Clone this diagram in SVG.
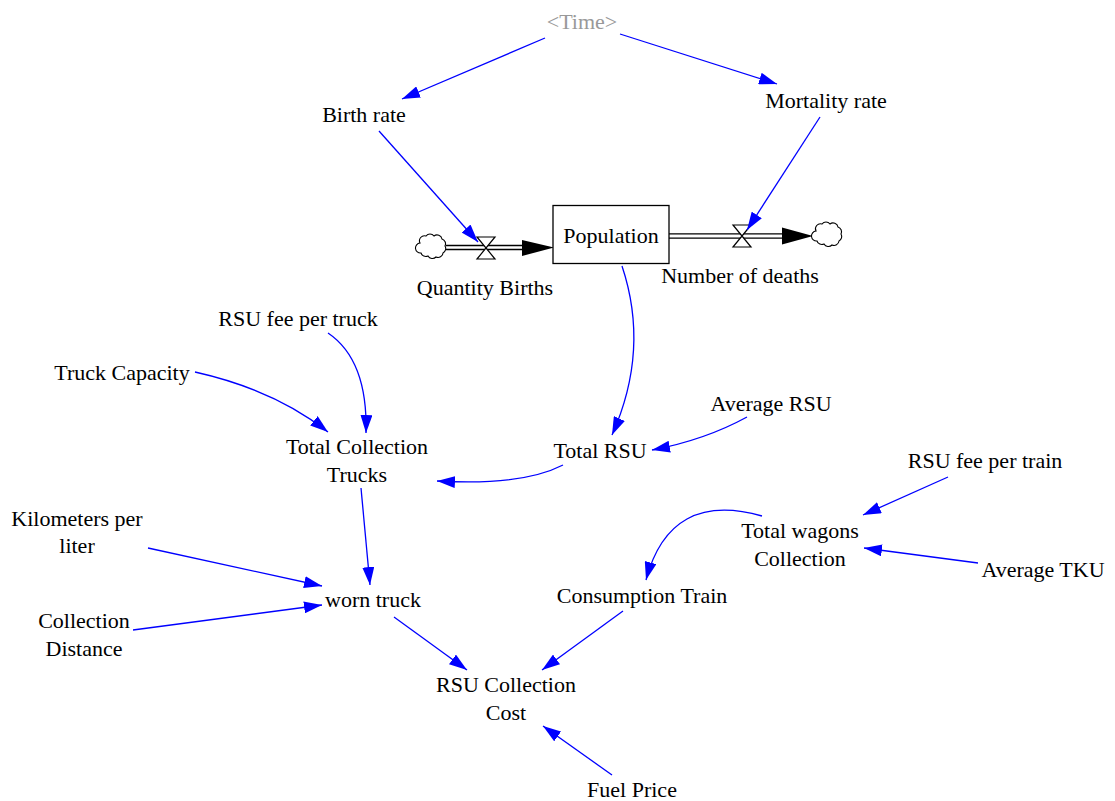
<svg xmlns="http://www.w3.org/2000/svg" width="1115" height="801" viewBox="0 0 1115 801">
<style>
.lbl text{font-size:22px;fill:#000;text-anchor:middle}
.lbl text.shadow{fill:#999}
.link{fill:none;stroke:#0000ff;stroke-width:1.3;marker-end:url(#ah)}
.pipe{stroke:#000;stroke-width:1.3;fill:none}
.valve{fill:#fff;stroke:#000;stroke-width:1.2}
.cloud{fill:#fff;stroke:#000;stroke-width:1.1}
.stock{fill:#fff;stroke:#000;stroke-width:1.3}
</style>
<defs>
<marker id="ah" viewBox="0 0 18 12" refX="18" refY="6" markerWidth="18" markerHeight="12" markerUnits="userSpaceOnUse" orient="auto">
<path d="M0,0 L18,6 L0,12 z" fill="#0000ff"/>
</marker>
<path id="cloudShape" d="M-12,-4 a5,5 0 0 1 6,-7 a5,5 0 0 1 8,0 a5,5 0 0 1 8,3 a5,5 0 0 1 3,7 a5,5 0 0 1 -2,7 a5,5 0 0 1 -7,4 a5,5 0 0 1 -8,-1 a5,5 0 0 1 -7,-3 a5,5 0 0 1 -1,-10 z"/>
<path id="valveShape" d="M-9,-11 L9,-11 L-9,11 L9,11 Z"/>
</defs>
<rect width="1115" height="801" fill="#fff"/>

<g id="flows">
<g id="flow-births">
<use href="#cloudShape" class="cloud" x="432" y="247"/>
<line class="pipe" x1="446" y1="245.5" x2="523" y2="245.5"/>
<line class="pipe" x1="446" y1="249.5" x2="523" y2="249.5"/>
<polygon points="522,240 554,247.5 522,256" fill="#000"/>
<use href="#valveShape" class="valve" x="486" y="248"/>
</g>
<g id="flow-deaths">
<line class="pipe" x1="669" y1="233.8" x2="783" y2="233.8"/>
<line class="pipe" x1="669" y1="238.2" x2="783" y2="238.2"/>
<polygon points="782,227.5 813,236 782,244.5" fill="#000"/>
<use href="#valveShape" class="valve" x="742" y="236"/>
<use href="#cloudShape" class="cloud" x="828" y="235"/>
</g>
</g>

<g id="connectors">
<path class="link" d="M545,38 L402,99"/>
<path class="link" d="M620,34 L777,84"/>
<path class="link" d="M379,131 L478,242"/>
<path class="link" d="M820,117 L747,230"/>
<path class="link" d="M622,266 Q650,350 612,435"/>
<path class="link" d="M747,417 Q705,440 652,450"/>
<path class="link" d="M563,465 Q522,486 437,481"/>
<path class="link" d="M195,372 Q275,390 328,432"/>
<path class="link" d="M328,333 Q368,360 366,433"/>
<path class="link" d="M361,488 L370,585"/>
<path class="link" d="M148,548 L322,586"/>
<path class="link" d="M133,630 L322,605"/>
<path class="link" d="M394,617 L467,670"/>
<path class="link" d="M623,611 L542,670"/>
<path class="link" d="M612,775 L543,726"/>
<path class="link" d="M762,516 Q670,490 646,580"/>
<path class="link" d="M948,477 L863,515"/>
<path class="link" d="M978,563 L864,548"/>
</g>

<g class="lbl" font-family="'Liberation Serif', 'Times New Roman', 'DejaVu Serif', serif">
<g id="time"><text class="shadow" x="582" y="29">&lt;Time&gt;</text></g>
<g id="birth-rate"><text x="364" y="122">Birth rate</text></g>
<g id="mortality-rate"><text x="826" y="108">Mortality rate</text></g>
<g id="population"><rect class="stock" x="553" y="205.5" width="116" height="58"/><text x="611" y="243">Population</text></g>
<g id="quantity-births"><text x="485" y="295">Quantity Births</text></g>
<g id="number-of-deaths"><text x="740" y="283">Number of deaths</text></g>
<g id="rsu-fee-per-truck"><text x="298" y="326">RSU fee per truck</text></g>
<g id="truck-capacity"><text x="122" y="380">Truck Capacity</text></g>
<g id="total-collection-trucks"><text x="357" y="454">Total Collection</text><text x="357" y="482">Trucks</text></g>
<g id="total-rsu"><text x="600" y="458">Total RSU</text></g>
<g id="average-rsu"><text x="771" y="411">Average RSU</text></g>
<g id="rsu-fee-per-train"><text x="985" y="468">RSU fee per train</text></g>
<g id="total-wagons-collection"><text x="800" y="538">Total wagons</text><text x="800" y="566">Collection</text></g>
<g id="average-tku"><text x="1043" y="577">Average TKU</text></g>
<g id="consumption-train"><text x="642" y="603">Consumption Train</text></g>
<g id="kilometers-per-liter"><text x="77" y="526">Kilometers per</text><text x="77" y="553">liter</text></g>
<g id="worn-truck"><text x="373" y="607">worn truck</text></g>
<g id="collection-distance"><text x="84" y="628">Collection</text><text x="84" y="656">Distance</text></g>
<g id="rsu-collection-cost"><text x="506" y="692">RSU Collection</text><text x="506" y="720">Cost</text></g>
<g id="fuel-price"><text x="632" y="797">Fuel Price</text></g>
</g>
</svg>
